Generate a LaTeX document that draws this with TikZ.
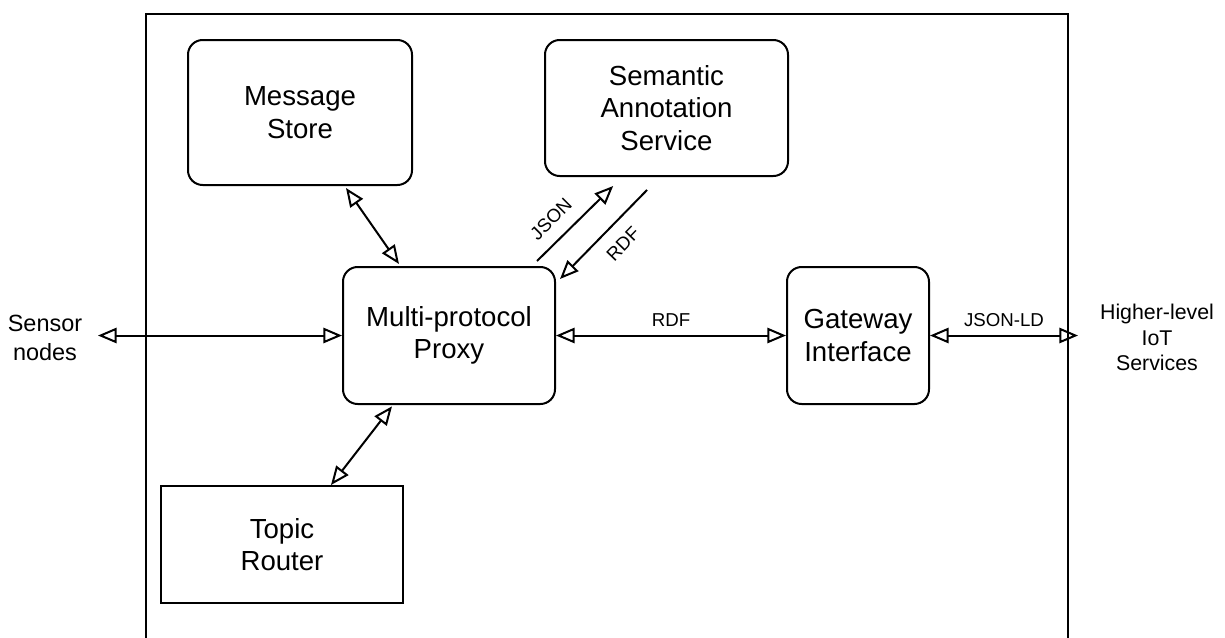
\documentclass[tikz,border=0pt]{standalone}
\usepackage{fontspec}
\setmainfont{Liberation Sans}
\usetikzlibrary{arrows.meta}
\begin{document}
\begin{tikzpicture}[x=0.75pt,y=-0.75pt,
  every node/.style={font=\fontsize{20.7}{24.5}\selectfont},
  box/.style={draw, line width=1.5pt, rounded corners=11pt, align=center, inner sep=0pt},
  sqbox/.style={draw, line width=1.5pt, align=center, inner sep=0pt},
  frame/.style={draw, line width=1.5pt},
  conn/.style={line width=1.5pt},
  both/.style={conn, {Triangle[open, length=14pt, width=11.5pt]}-{Triangle[open, length=14pt, width=11.5pt]}},
  one/.style={conn, -{Triangle[open, length=14pt, width=11.5pt]}},
  lbl/.style={font=\fontsize{14}{16}\selectfont, inner sep=1pt},
  side/.style={align=center, inner sep=0pt}
]
\useasboundingbox (0,0) rectangle (1225,637);
\clip (0,0) rectangle (1225,637);
\draw[frame] (146,660) -- (146,14) -- (1068,14) -- (1068,660);

\node[box, minimum width=168pt, minimum height=108.75pt] (store) at (300,112.5) {Message\\Store};
\node[box, minimum width=182.25pt, minimum height=102pt] (sem) at (666.5,108) {Semantic\\Annotation\\Service};
\node[box, minimum width=159pt, minimum height=102.75pt] (proxy) at (449,335.5) {Multi-protocol\\Proxy};
\node[box, minimum width=106.5pt, minimum height=102.75pt] (gw) at (858,335.5) {Gateway\\Interface};
\node[sqbox, minimum width=181.5pt, minimum height=87.75pt] (router) at (282,544.5) {Topic\\Router};

\node[side, font=\fontsize{17.6}{21.75}\selectfont] (sensor) at (45,337.5) {Sensor\\nodes};
\node[side, font=\fontsize{16}{19}\selectfont] (higher) at (1157,337.5) {Higher-level\\IoT\\Services};

\coordinate (sensorpt) at (98,333);
\coordinate (higherpt) at (1078,333);

% connectors
\draw[both] (sensorpt |- proxy.west) -- (proxy.west);
\draw[both] (proxy.east) -- node[lbl, above=5pt] (rdflbl) {RDF} (gw.west);
\draw[both] (gw.east) -- node[lbl, above=5pt] (jsonldlbl) {JSON-LD} (higherpt |- gw.east);
\draw[both] ([xshift=34.5pt,yshift=-1.5pt]store.south) -- ([xshift=-37.5pt,yshift=1.5pt]proxy.north);
\draw[both] ([xshift=-42.75pt,yshift=-1pt]proxy.south) -- ([xshift=36.75pt]router.north);
\draw[one] ([xshift=66pt,yshift=3.75pt]proxy.north) -- ([xshift=-40pt,yshift=-6.75pt]sem.south);
\draw[one] ([xshift=-14.6pt,yshift=-9.75pt]sem.south) -- ([xshift=3pt,yshift=-9.75pt]proxy.north east);

\node[lbl, rotate=45] (jsonlbl) at (551,219) {JSON};
\node[lbl, rotate=46] (rdfdlbl) at (623,244) {RDF};
\end{tikzpicture}
\end{document}
